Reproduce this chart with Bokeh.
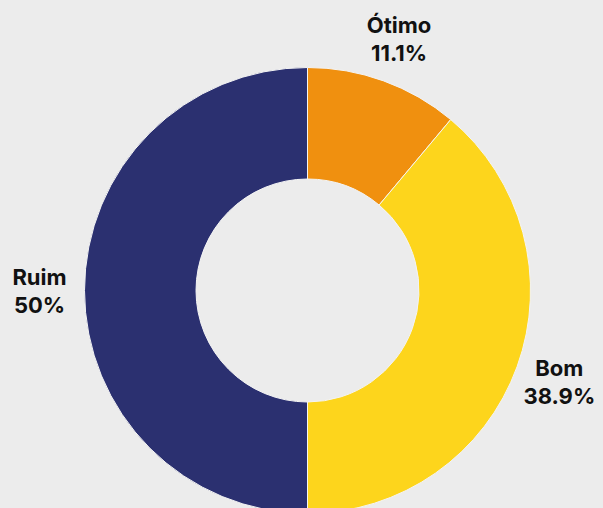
import numpy as np
from bokeh.plotting import figure
from bokeh.models import Range1d, ColumnDataSource
from bokeh.core.properties import value
from bokeh.embed import file_html
from bokeh.resources import INLINE

categories = ["Ótimo", "Bom", "Ruim"]
shares = [11.1, 38.9, 50.0]
pct_labels = ["11.1%", "38.9%", "50%"]
colors = ["#f0900f", "#fdd51c", "#2b3070"]

W, H = 603, 508
cx, cy = 307, H - 290
r_out, r_in, r_lab = 223, 111.5, 268

vals = np.array(shares)
frac = vals / vals.sum()
cum = np.concatenate([[0], np.cumsum(frac)])
start = np.pi / 2 - cum[1:] * 2 * np.pi
end = np.pi / 2 - cum[:-1] * 2 * np.pi
mid = (start + end) / 2

src = ColumnDataSource(dict(
    cat=categories, pct=pct_labels, color=colors,
    start=start, end=end,
    lx=cx + r_lab * np.cos(mid), ly=cy + r_lab * np.sin(mid),
))

p = figure(width=W, height=H, output_backend="svg", toolbar_location=None,
           x_range=Range1d(0, W), y_range=Range1d(0, H),
           min_border=0, background_fill_color="#ececec",
           border_fill_color="#ececec", outline_line_color=None)
p.axis.visible = False
p.grid.visible = False

p.annular_wedge(x=cx, y=cy, inner_radius=r_in, outer_radius=r_out,
                start_angle="start", end_angle="end", color="color",
                line_color="#f4f4f4", line_width=1, source=src)

for col, off in (("cat", -14), ("pct", 14)):
    p.text(x="lx", y="ly", text=col, source=src, y_offset=off,
           text_align="center", text_baseline="middle",
           text_font=value("Inter"), text_font_style="bold",
           text_font_size="22px", text_color="#111111")

html = file_html(p, INLINE)
html = html.replace("<head>", "<head><style>html,body{margin:0;padding:0;background:#ececec;overflow:hidden;}</style>", 1)
open("out.html", "w").write(html)
